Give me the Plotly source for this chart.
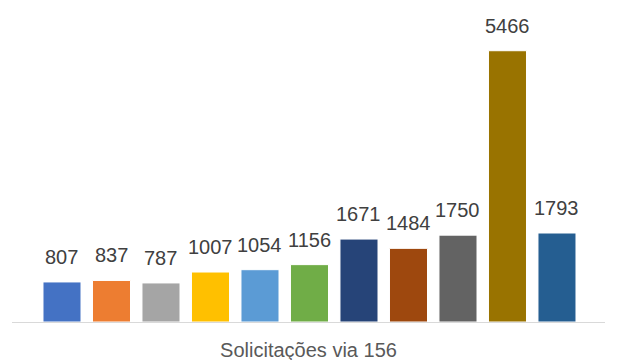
import plotly.graph_objects as go

categories = ["A", "B", "C", "D", "E", "F", "G", "H", "I", "J", "K"]
values = [807, 837, 787, 1007, 1054, 1156, 1671, 1484, 1750, 5466, 1793]
colors = ["#4472C4", "#ED7D31", "#A5A5A5", "#FFC000", "#5B9BD5", "#70AD47",
          "#264478", "#9E480E", "#636363", "#997300", "#255E91"]
axis_title = "Solicitações via 156"

fig = go.Figure()
fig.add_trace(go.Bar(
    x=categories, y=values,
    marker=dict(color=colors, line=dict(color="white", width=1)),
    hoverinfo="skip",
))

for c, v in zip(categories, values):
    fig.add_annotation(x=c, y=v, text=str(v), showarrow=False,
                       yanchor="bottom", yshift=12,
                       font=dict(family="Liberation Sans", size=20, color="#404040"))

fig.update_layout(
    width=617, height=360,
    margin=dict(l=4, r=20, t=12, b=46),
    paper_bgcolor="white", plot_bgcolor="white",
    bargap=0.232,
    showlegend=False,
    xaxis=dict(
        range=[-1.01, 10.97],
        showticklabels=False, ticks="",
        showgrid=False, zeroline=False,
        showline=True, linecolor="#D9D9D9", linewidth=1,
        title=dict(text=axis_title, standoff=20,
                   font=dict(family="Liberation Sans", size=20, color="#595959")),
    ),
    yaxis=dict(
        range=[0, 6085],
        visible=False, showgrid=False, zeroline=False,
    ),
)

fig.write_html("out.html")
